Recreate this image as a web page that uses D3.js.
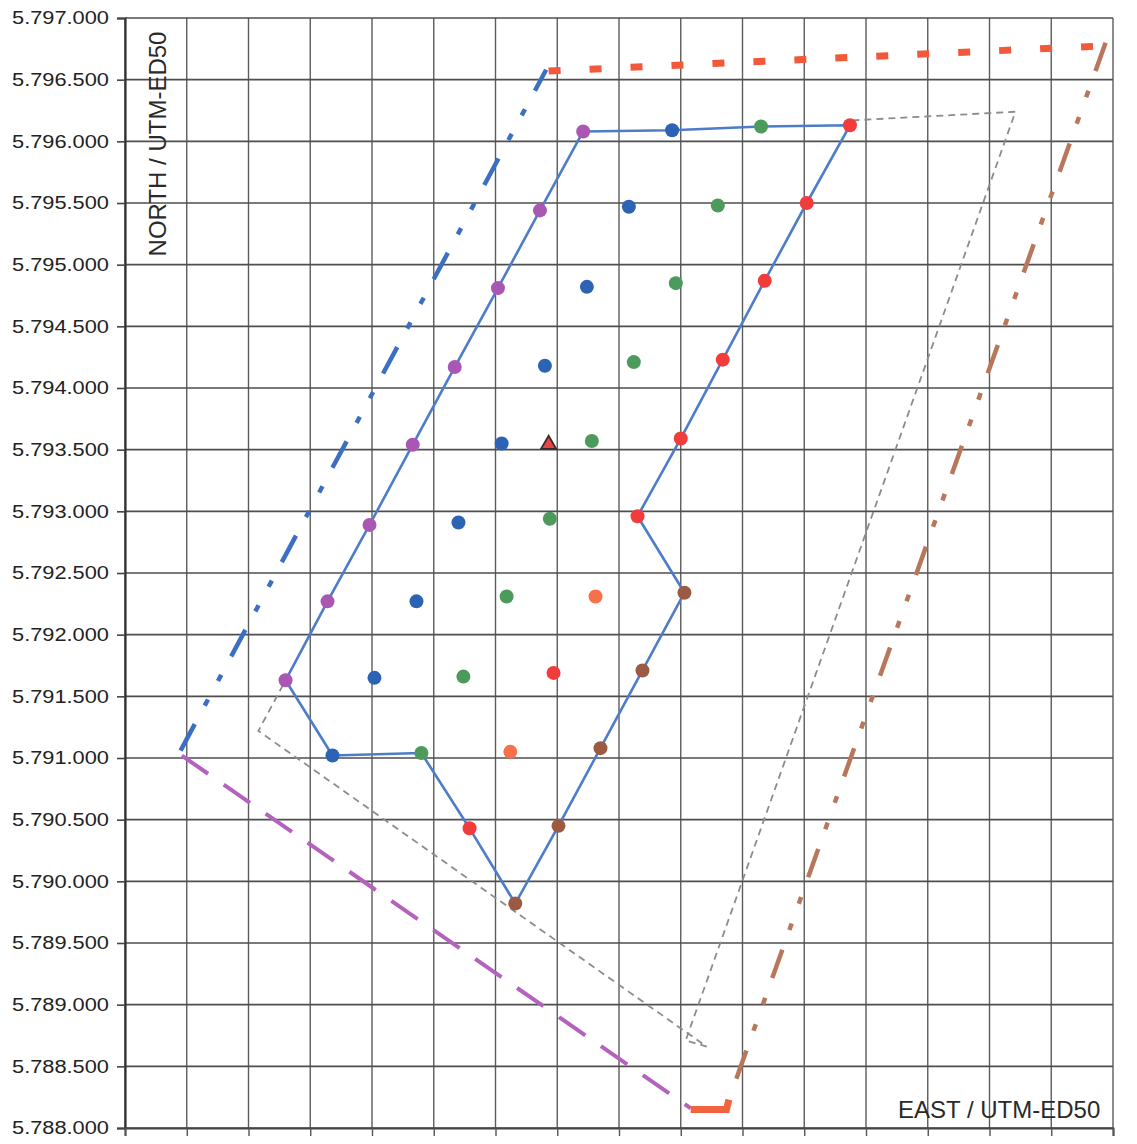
<!DOCTYPE html>
<html><head><meta charset="utf-8">
<script src="https://cdn.jsdelivr.net/npm/d3@7"></script>
<style>body{margin:0;background:#fff} svg{display:block}</style>
</head><body><svg id="c" width="1137" height="1144"></svg>
<script>
// ---- tick values ----
const northTicks = [5788000,5788500,5789000,5789500,5790000,5790500,5791000,5791500,5792000,
  5792500,5793000,5793500,5794000,5794500,5795000,5795500,5796000,5796500,5797000];
const eastTicks = [584000,584500,585000,585500,586000,586500,587000,587500,588000,588500,
  589000,589500,590000,590500,591000,591500,592000];

// ---- point series [east, north] ----
const purplePts = [[587710,5796080],[587360,5795440],[587020,5794810],[586670,5794170],
  [586330,5793540],[585980,5792890],[585640,5792270],[585300,5791630]];
const bluePts = [[588430,5796090],[588080,5795470],[587740,5794820],[587400,5794180],
  [587050,5793550],[586700,5792910],[586360,5792270],[586020,5791650],[585680,5791020]];
const greenPts = [[589150,5796120],[588800,5795480],[588460,5794850],[588120,5794210],
  [587780,5793570],[587440,5792940],[587090,5792310],[586740,5791660],[586400,5791040]];
const redPts = [[589870,5796130],[589520,5795500],[589180,5794870],[588840,5794230],
  [588500,5793590],[588150,5792960],[587470,5791690],[586790,5790430]];
const orangePts = [[587810,5792310],[587120,5791050]];
const brownPts = [[588530,5792340],[588190,5791710],[587850,5791080],[587510,5790450],[587160,5789820]];
const trianglePts = [[587430,5793550]];

// ---- outline of the sand extraction area ----
const areaOutline = [[585300,5791630],[585640,5792270],[585980,5792890],[586330,5793540],
  [586670,5794170],[587020,5794810],[587360,5795440],[587710,5796080],[588430,5796090],
  [589150,5796120],[589870,5796130],[589520,5795500],[589180,5794870],[588840,5794230],
  [588500,5793590],[588150,5792960],[588530,5792340],[588190,5791710],[587850,5791080],
  [587510,5790450],[587160,5789820],[586790,5790430],[586400,5791040],[585680,5791020],
  [585300,5791630]];

// ---- boundary lines ----
const blueBoundary = [[584450,5791060],[587410,5796580]];
const redBoundary = [[587430,5796570],[591840,5796770]];
const brownBoundary = [[591940,5796800],[588940,5788370]];
const purpleBoundary = [[584460,5791020],[588580,5788160]];
const orangeBoundary = [[588580,5788150],[588870,5788150],[588890,5788230]];
const grayOutline = [[589890,5796170],[591210,5796240],[588540,5788710],[588710,5788660],
  [585080,5791220],[585300,5791630]];

const svg = d3.select("#c");
const x = d3.scaleLinear().domain([584000,592000]).range([125,1113]);
const y = d3.scaleLinear().domain([5788000,5797000]).range([1128,18]);
const loc = d3.formatLocale({decimal:",", thousands:".", grouping:[3], currency:["",""]});
const fmt = loc.format(",d");

// grid
const grid = svg.append("g");
grid.selectAll("line.v").data(eastTicks).join("line")
  .attr("x1", d=>x(d)).attr("x2", d=>x(d)).attr("y1", y(5797000)).attr("y2", y(5788000))
  .attr("stroke", "#5c5c5c").attr("stroke-width", 1.4);
grid.selectAll("line.h").data(northTicks).join("line")
  .attr("x1", x(584000)).attr("x2", x(592000)).attr("y1", d=>y(d)).attr("y2", d=>y(d))
  .attr("stroke", "#4e4e4e").attr("stroke-width", 1.6);

// axes
const yAxis = svg.append("g").attr("transform", `translate(${x(584000)},0)`)
  .call(d3.axisLeft(y).tickValues(northTicks).tickFormat(fmt).tickSize(8).tickPadding(8));
yAxis.select(".domain").attr("stroke", "#333").attr("stroke-width", 2.2);
yAxis.selectAll(".tick line").attr("stroke", "#444").attr("stroke-width", 1.6);
yAxis.selectAll(".tick text").attr("font-family", "'Liberation Sans', Arial, sans-serif")
  .attr("font-size", 18).attr("fill", "#222")
  .attr("textLength", 97).attr("lengthAdjust", "spacingAndGlyphs");

const xAxis = svg.append("g").attr("transform", `translate(0,${y(5788000)})`)
  .call(d3.axisBottom(x).tickValues(eastTicks).tickFormat("").tickSize(8));
xAxis.select(".domain").attr("stroke", "#444").attr("stroke-width", 2);
xAxis.selectAll(".tick line").attr("stroke", "#555").attr("stroke-width", 1.4);

// axis titles
svg.append("text").attr("transform", "translate(166,144) rotate(-90)")
  .attr("text-anchor", "middle").attr("font-family", "'Liberation Sans', Arial, sans-serif")
  .attr("font-size", 24).attr("fill", "#2a2a2a").text("NORTH / UTM-ED50");
svg.append("text").attr("x", 898).attr("y", 1118)
  .attr("font-family", "'Liberation Sans', Arial, sans-serif")
  .attr("font-size", 24).attr("fill", "#2a2a2a").text("EAST / UTM-ED50");

const line = d3.line().x(d=>x(d[0])).y(d=>y(d[1]));

// gray outline
svg.append("path").attr("d", line(grayOutline)).attr("fill", "none")
  .attr("stroke", "#8c8c8c").attr("stroke-width", 1.8).attr("stroke-dasharray", "7,5");

// boundaries
svg.append("path").attr("d", line(blueBoundary)).attr("fill","none")
  .attr("stroke", "#3a6fc4").attr("stroke-width", 4.5).attr("stroke-dasharray", "30,21,7,21,7,21");
svg.append("path").attr("d", line(redBoundary)).attr("fill","none")
  .attr("stroke", "#f2583a").attr("stroke-width", 7).attr("stroke-dasharray", "12,29");
svg.append("path").attr("d", line(brownBoundary)).attr("fill","none")
  .attr("stroke", "#b8775a").attr("stroke-width", 4.5).attr("stroke-dasharray", "30,21,7,21,7,21");
svg.append("path").attr("d", line(purpleBoundary)).attr("fill","none")
  .attr("stroke", "#b462bd").attr("stroke-width", 4).attr("stroke-dasharray", "32,19");
svg.append("path").attr("d", line(orangeBoundary)).attr("fill","none")
  .attr("stroke", "#f26440").attr("stroke-width", 7);

// area outline
svg.append("path").attr("d", line(areaOutline)).attr("fill","none")
  .attr("stroke", "#4d7dca").attr("stroke-width", 2.6).attr("stroke-linejoin", "round");

// points
const series = [
  {pts: purplePts, color: "#a957b3"},
  {pts: bluePts, color: "#2d63b5"},
  {pts: greenPts, color: "#4c9a5c"},
  {pts: redPts, color: "#f23c3c"},
  {pts: orangePts, color: "#f6704a"},
  {pts: brownPts, color: "#9c5a42"}
];
series.forEach(s => {
  svg.append("g").selectAll("circle").data(s.pts).join("circle")
    .attr("cx", d=>x(d[0])).attr("cy", d=>y(d[1])).attr("r", 7).attr("fill", s.color);
});
svg.append("g").selectAll("path").data(trianglePts).join("path")
  .attr("transform", d=>`translate(${x(d[0])},${y(d[1])+1})`)
  .attr("d", d3.symbol(d3.symbolTriangle, 100))
  .attr("fill", "#e64646").attr("stroke", "#3a2a2a").attr("stroke-width", 1.8);
</script></body></html>
